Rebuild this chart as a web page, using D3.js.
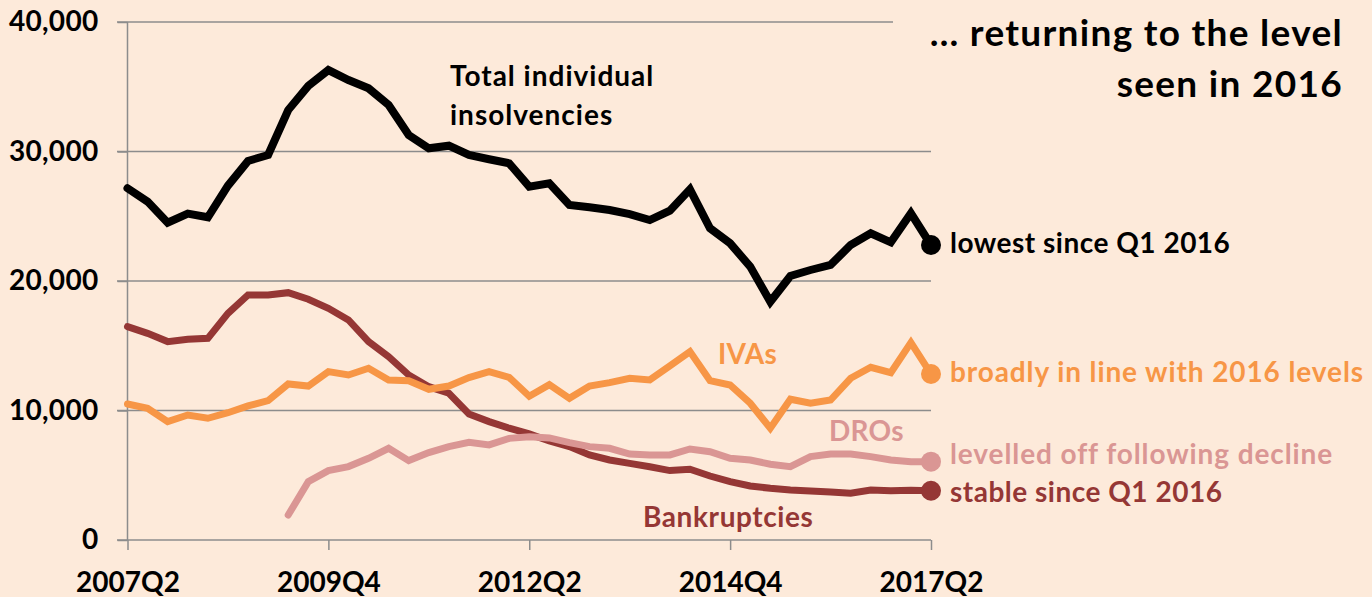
<!DOCTYPE html>
<html><head><meta charset="utf-8">
<script src="https://cdn.jsdelivr.net/npm/d3@7"></script>
<style>
html,body{margin:0;padding:0;background:#FDEADA;}
svg{display:block;font-family:Lato,"Open Sans",sans-serif;font-weight:700;}
</style></head>
<body><svg id="chart" width="1372" height="597"></svg>
<script>
// quarters 2007Q2 .. 2017Q2
const quarters = [];
for (let i = 0; i <= 40; i++) { const q = 1 + i; const y = 2007 + Math.floor(q / 4); quarters.push(y + "Q" + (q % 4 + 1)); }
const xTickLabels = ["2007Q2","2009Q4","2012Q2","2014Q4","2017Q2"];
const yTicks = [0,10000,20000,30000,40000];

const total = [27160,26130,24500,25200,24920,27360,29270,29730,33200,35060,36290,35520,34880,33590,31270,30250,30450,29730,29400,29090,27280,27550,25870,25690,25480,25170,24710,25430,27080,24070,22910,21110,18400,20390,20850,21240,22780,23680,22990,25230,22780];
const bankruptcies = [16480,15960,15320,15500,15570,17500,18920,18920,19100,18590,17890,16990,15320,14160,12740,11840,11330,9730,9140,8630,8190,7650,7210,6570,6180,5920,5660,5360,5460,4940,4500,4170,3990,3860,3790,3710,3610,3860,3810,3840,3800];
const ivas = [10500,10170,9140,9650,9400,9830,10350,10760,12050,11890,13000,12740,13260,12360,12300,11640,11890,12540,13000,12560,11100,12000,10940,11890,12150,12490,12360,13440,14550,12300,11970,10560,8630,10870,10560,10810,12490,13340,12920,15240,12820];
const dros = [null,null,null,null,null,null,null,null,1930,4500,5360,5670,6310,7080,6130,6750,7210,7540,7340,7850,7980,7880,7520,7210,7080,6640,6570,6570,7030,6820,6310,6180,5850,5660,6440,6640,6640,6440,6180,6050,6050];

const series = [
  {name:"Bankruptcies", values:bankruptcies, color:"#953735", width:7},
  {name:"DROs", values:dros, color:"#DA9694", width:7},
  {name:"IVAs", values:ivas, color:"#F79646", width:7},
  {name:"Total individual insolvencies", values:total, color:"#000000", width:8}
];

const svg = d3.select("#chart");
const x = d3.scalePoint().domain(quarters).range([127.5, 931]);
const y = d3.scaleLinear().domain([0, 40000]).range([540, 22]);
const grid = "#8C8C8C";

// gridlines
svg.append("g").selectAll("line").data(yTicks.filter(d => d > 0)).join("line")
  .attr("x1", 117).attr("x2", d => d === 40000 ? 893 : 931)
  .attr("y1", d => y(d)).attr("y2", d => y(d))
  .attr("stroke", grid).attr("stroke-width", 1.5);

// y axis
const yAxis = d3.axisLeft(y).tickValues(yTicks).tickSize(10).tickPadding(18).tickFormat(d3.format(","));
const gy = svg.append("g").attr("transform", "translate(127.5,0)").call(yAxis);
gy.select(".domain").attr("stroke", grid).attr("stroke-width", 1.5).attr("d", "M0,22V540");
gy.selectAll(".tick line").attr("stroke", grid).attr("stroke-width", 1.5);
gy.selectAll(".tick text").attr("font-size", 28).attr("font-family", "Lato").attr("font-weight", 700).attr("fill", "#000").attr("x", -29).attr("letter-spacing", 0.3);

// x axis
const xAxis = d3.axisBottom(x).tickValues(xTickLabels).tickSize(10).tickPadding(22);
const gx = svg.append("g").attr("transform", "translate(0,540)").call(xAxis);
gx.select(".domain").attr("stroke", grid).attr("stroke-width", 1.5).attr("d", "M117,0H931");
gx.selectAll(".tick line").attr("stroke", grid).attr("stroke-width", 1.5);
gx.selectAll(".tick text").attr("font-size", 28).attr("font-family", "Lato").attr("font-weight", 700).attr("fill", "#000");

// lines
const line = d3.line().defined(d => d.v != null).x(d => x(d.q)).y(d => y(d.v));
series.forEach(s => {
  const pts = quarters.map((q, i) => ({q, v: s.values[i]}));
  svg.append("path").datum(pts).attr("d", line).attr("fill", "none")
    .attr("stroke", s.color).attr("stroke-width", s.width)
    .attr("stroke-linejoin", "miter").attr("stroke-miterlimit", 3).attr("stroke-linecap", "round");
  const last = pts[pts.length - 1];
  svg.append("circle").attr("cx", x(last.q)).attr("cy", y(last.v)).attr("r", 10).attr("fill", s.color);
});

// annotations
const ann = (t, xx, yy, color, size, ls, anchor) => svg.append("text").attr("x", xx).attr("y", yy)
  .attr("fill", color).attr("font-size", size).attr("letter-spacing", ls)
  .attr("text-anchor", anchor || "start").text(t);

ann("… returning to the level", 1343, 46, "#000", 37, 1.3, "end");
ann("seen in 2016", 1343, 97, "#000", 37, 1.3, "end");
ann("Total individual", 450, 86, "#000", 28, 1);
ann("insolvencies", 450, 125, "#000", 28, 1);
ann("IVAs", 718, 364, "#F79646", 28, 0.3);
ann("DROs", 829, 441, "#DA9694", 28, 0.3);
ann("Bankruptcies", 643, 527, "#953735", 28, 0.6);
ann("lowest since Q1 2016", 950, 253, "#000", 28, 0.5);
ann("broadly in line with 2016 levels", 950, 382, "#F79646", 28, 0.9);
ann("levelled off following decline", 950, 464, "#DA9694", 28, 0.9);
ann("stable since Q1 2016", 950, 502, "#953735", 28, 0.5);
</script></body></html>
